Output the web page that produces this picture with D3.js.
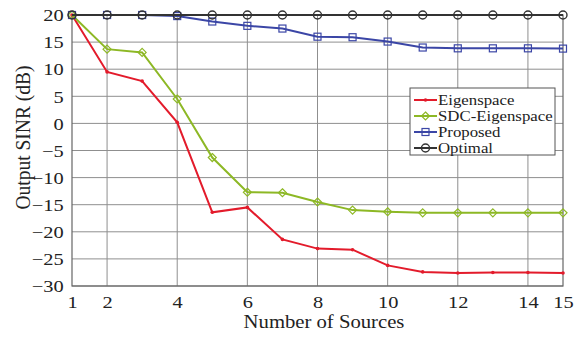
<!DOCTYPE html>
<html><head><meta charset="utf-8">
<script src="https://cdn.jsdelivr.net/npm/d3@7"></script>
<style>body{margin:0;background:#fff}svg{display:block}
text{font-family:"Liberation Serif","DejaVu Serif",serif}</style>
</head><body>
<script>
const sources = [1,2,3,4,5,6,7,8,9,10,11,12,13,14,15];
const eigenspace = [20,9.5,7.8,0.2,-16.4,-15.5,-21.4,-23.1,-23.3,-26.2,-27.4,-27.6,-27.5,-27.5,-27.6];
const sdcEigenspace = [20,13.7,13.1,4.5,-6.3,-12.7,-12.8,-14.5,-16.0,-16.3,-16.5,-16.5,-16.5,-16.5,-16.5];
const proposed = [20,20,20,19.8,18.8,18.0,17.5,16.0,15.9,15.1,14.0,13.85,13.85,13.85,13.8];
const optimal = [20,20,20,20,20,20,20,20,20,20,20,20,20,20,20];
const xTicks = [1,2,4,6,8,10,12,14,15];
const yTicks = [-30,-25,-20,-15,-10,-5,0,5,10,15,20];
const seriesNames = ["Eigenspace","SDC-Eigenspace","Proposed","Optimal"];

const W=578,H=339;
const m={l:72,r:15,t:15,b:53};
const svg=d3.select("body").append("svg").attr("width",W).attr("height",H);
const x=d3.scaleLinear().domain([1,15]).range([m.l,W-m.r]);
const y=d3.scaleLinear().domain([-30,20]).range([H-m.b,m.t]);
const font='"Liberation Serif","DejaVu Serif",serif';

// grid
svg.append("g").selectAll("line").data([2,4,6,8,10,12,14]).join("line")
 .attr("x1",d=>x(d)).attr("x2",d=>x(d)).attr("y1",y(20)).attr("y2",y(-30))
 .attr("stroke","#8f8f8f").attr("stroke-width",1);
svg.append("g").selectAll("line").data(yTicks).join("line")
 .attr("x1",x(1)).attr("x2",x(15)).attr("y1",d=>y(d)).attr("y2",d=>y(d))
 .attr("stroke","#8f8f8f").attr("stroke-width",1);
svg.append("rect").attr("x",x(1)).attr("y",y(20)).attr("width",x(15)-x(1)).attr("height",y(-30)-y(20))
 .attr("fill","none").attr("stroke","#666").attr("stroke-width",1.2);

// axes
const xa=svg.append("g").attr("transform",`translate(0,${y(-30)})`)
 .call(d3.axisBottom(x).tickValues(xTicks).tickSize(0).tickPadding(0).tickFormat(d3.format("d")));
const ya=svg.append("g").attr("transform",`translate(${x(1)},0)`)
 .call(d3.axisLeft(y).tickValues(yTicks).tickSize(0).tickPadding(7).tickFormat(d3.format("d")));
[xa,ya].forEach(a=>{a.attr("font-family",null).attr("font-size",null);a.select(".domain").remove();
 a.selectAll("text").style("font-family",font).attr("font-size",17).attr("fill","#222")
  .attr("transform","scale(1.2,1)");});
xa.selectAll("text").attr("y",22).attr("dy",null);
ya.selectAll("text").attr("dy","0.34em");

svg.append("text").attr("transform",`translate(324,328) scale(1.15,1)`).attr("text-anchor","middle")
 .style("font-family",font).attr("font-size",18).attr("fill","#222").text("Number of Sources");
svg.append("text").attr("transform",`translate(30,${(62+213)/2}) scale(1.1,1) rotate(-90)`).attr("text-anchor","middle")
 .style("font-family",font).attr("font-size",19.5).attr("fill","#222").text("Output SINR (dB)");

const series=[
 {name:seriesNames[0],vals:eigenspace,color:"#e31b2b",marker:"dot"},
 {name:seriesNames[1],vals:sdcEigenspace,color:"#8db825",marker:"diamond"},
 {name:seriesNames[2],vals:proposed,color:"#3b46a6",marker:"square"},
 {name:seriesNames[3],vals:optimal,color:"#333333",marker:"circle"}
];
const line=d3.line().x(d=>x(d[0])).y(d=>y(d[1]));
function marker(g,type,color,cx,cy){
 if(type==="dot") g.append("circle").attr("cx",cx).attr("cy",cy).attr("r",1.8).attr("fill",color);
 else if(type==="diamond") g.append("path").attr("d",`M${cx},${cy-4}L${cx+4},${cy}L${cx},${cy+4}L${cx-4},${cy}Z`).attr("fill","none").attr("stroke",color).attr("stroke-width",1.2);
 else if(type==="square") g.append("rect").attr("x",cx-3.5).attr("y",cy-3.5).attr("width",7).attr("height",7).attr("fill","none").attr("stroke",color).attr("stroke-width",1.2);
 else g.append("circle").attr("cx",cx).attr("cy",cy).attr("r",4).attr("fill","none").attr("stroke",color).attr("stroke-width",1.4);
}
series.forEach(s=>{
 const pts=sources.map((v,i)=>[v,s.vals[i]]);
 svg.append("path").datum(pts).attr("d",line).attr("fill","none").attr("stroke",s.color).attr("stroke-width",2);
 const g=svg.append("g");
 pts.forEach(p=>marker(g,s.marker,s.color,x(p[0]),y(p[1])));
});

// legend
const lg=svg.append("g").attr("transform","translate(410,88)");
lg.append("rect").attr("width",145).attr("height",67).attr("fill","#fff").attr("stroke","#555").attr("stroke-width",1);
series.forEach((s,i)=>{
 const yy=12+i*16;
 lg.append("line").attr("x1",4).attr("x2",27).attr("y1",yy).attr("y2",yy).attr("stroke",s.color).attr("stroke-width",2);
 marker(lg,s.marker,s.color,15.5,yy);
 lg.append("text").attr("transform",`translate(28,${yy+5}) scale(1.12,1)`).style("font-family",font)
  .attr("font-size",15).attr("fill","#222").text(s.name);
});
</script>
</body></html>
